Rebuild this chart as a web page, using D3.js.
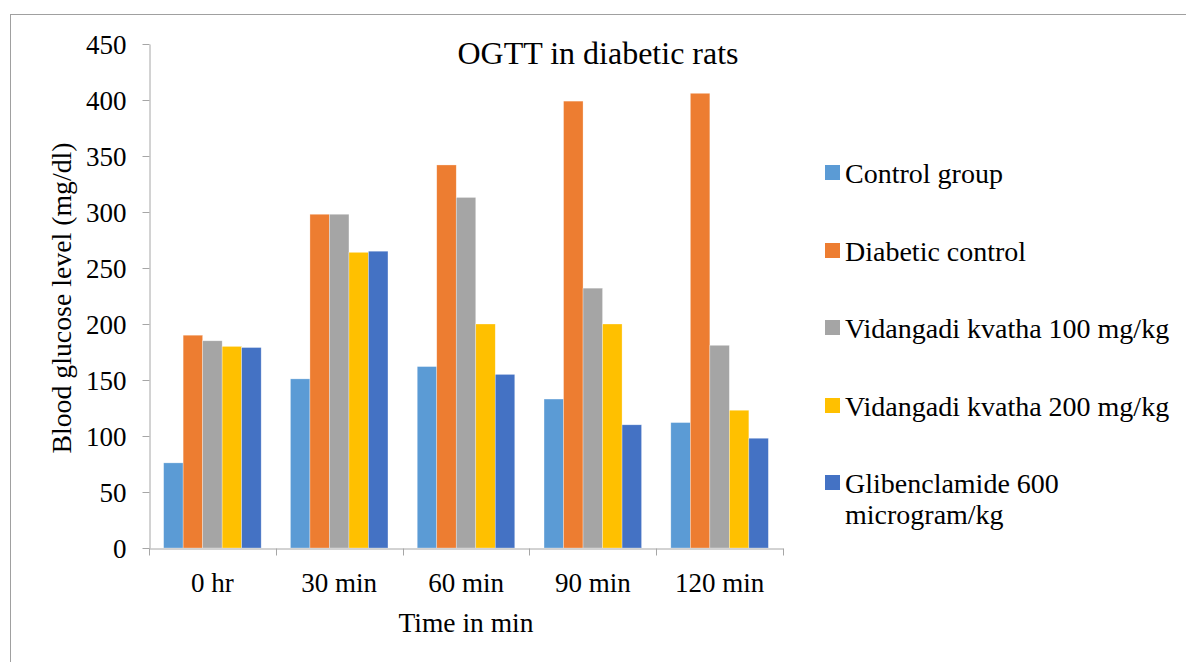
<!DOCTYPE html>
<html>
<head>
<meta charset="utf-8">
<script src="https://cdn.jsdelivr.net/npm/d3@7"></script>
<style>
  body { margin: 0; background: #fff; }
  svg { display: block; font-family: "Liberation Serif", "Times New Roman", serif; }
  .axis path, .axis line { stroke: #a6a6a6; }
  .axis text { font-size: 27px; fill: #000; font-family: "Liberation Serif", serif; }
</style>
</head>
<body>
<svg width="1186" height="662"></svg>
<script>
var categories = ["0 hr", "30 min", "60 min", "90 min", "120 min"]
var seriesNames = ["Control group", "Diabetic control", "Vidangadi kvatha 100 mg/kg", "Vidangadi kvatha 200 mg/kg", "Glibenclamide 600 microgram/kg"]
var controlGroup = [76, 151, 162, 133, 112]
var diabeticControl = [190, 298, 342, 399, 406]
var vid100 = [185, 298, 313, 232, 181]
var vid200 = [180, 264, 200, 200, 123]
var glibenclamide = [179, 265, 155, 110, 98]
var yTicks = [0, 50, 100, 150, 200, 250, 300, 350, 400, 450]
var colors = ["#5b9bd5", "#ed7d31", "#a5a5a5", "#ffc000", "#4472c4"]

var seriesValues = [controlGroup, diabeticControl, vid100, vid200, glibenclamide]

var svg = d3.select("svg")

// outer frame (only top and left edges are visible in the picture)
svg.append("rect")
    .attr("x", 10.5).attr("y", 14.5)
    .attr("width", 1300).attr("height", 800)
    .attr("fill", "none")
    .attr("stroke", "#a0a0a0")

var plotLeft = 149, plotRight = 783, plotTop = 44, plotBottom = 548

var x0 = d3.scaleBand().domain(categories).range([plotLeft, plotRight])
var x1 = d3.scaleBand().domain(seriesNames).range([0, x0.bandwidth()]).paddingOuter(0.75)
var y = d3.scaleLinear().domain([0, 450]).range([plotBottom, plotTop])

// bars
var groups = svg.append("g").selectAll("g")
    .data(categories)
  .enter().append("g")
    .attr("transform", function(d) { return "translate(" + x0(d) + ",0)" })

groups.selectAll("rect")
    .data(function(d, i) { return seriesNames.map(function(s, j) { return { s: s, v: seriesValues[j][i], c: colors[j] } }) })
  .enter().append("rect")
    .attr("x", function(d) { return x1(d.s) })
    .attr("y", function(d) { return y(d.v) })
    .attr("width", x1.bandwidth())
    .attr("height", function(d) { return y(0) - y(d.v) })
    .attr("fill", function(d) { return d.c })
    .attr("stroke", "#ffffff")
    .attr("stroke-opacity", 0.5)
    .attr("stroke-width", 0.6)

// y axis
var yAxis = svg.append("g")
    .attr("class", "axis")
    .attr("transform", "translate(" + (plotLeft + 0.5) + ",0)")
    .call(d3.axisLeft(y).tickValues(yTicks).tickSize(7).tickSizeOuter(0).tickPadding(16))
yAxis.selectAll("text").attr("dy", "0.34em")

// x axis: labels only, ticks sit between categories
var xAxis = svg.append("g")
    .attr("class", "axis")
    .attr("transform", "translate(0," + (plotBottom + 0.5) + ")")
    .call(d3.axisBottom(x0).tickSize(0).tickSizeOuter(0).tickPadding(0))
xAxis.selectAll("text").attr("dy", null).attr("y", 43)

var bounds = categories.map(function(c) { return x0(c) }).concat([plotRight])
xAxis.selectAll(".sep")
    .data(bounds)
  .enter().append("line")
    .attr("class", "sep")
    .attr("x1", function(d) { return Math.round(d) + 0.5 })
    .attr("x2", function(d) { return Math.round(d) + 0.5 })
    .attr("y1", 0).attr("y2", 7)

// titles
svg.append("text")
    .attr("x", 598).attr("y", 64)
    .attr("text-anchor", "middle")
    .style("font-size", "32px")
    .text("OGTT in diabetic rats")

svg.append("text")
    .attr("x", (plotLeft + plotRight) / 2).attr("y", 632)
    .attr("text-anchor", "middle")
    .style("font-size", "27.5px")
    .text("Time in min")

svg.append("text")
    .attr("transform", "translate(71," + 298 + ") rotate(-90)")
    .attr("text-anchor", "middle")
    .style("font-size", "27.8px")
    .text("Blood glucose level (mg/dl)")

// legend
var legendTop = [165, 243, 320, 398, 475]
var legend = svg.append("g").selectAll("g")
    .data(seriesNames)
  .enter().append("g")
    .attr("transform", function(d, i) { return "translate(825," + legendTop[i] + ")" })

legend.append("rect")
    .attr("width", 15).attr("height", 15)
    .attr("fill", function(d, i) { return colors[i] })

legend.append("text")
    .attr("x", 20)
    .style("font-size", "28px")
    .each(function(d) {
      // long names wrap onto a second line, as in the original
      var lines = d.length > 28 ? ["Glibenclamide 600", "microgram/kg"] : [d]
      var t = d3.select(this)
      lines.forEach(function(l, k) {
        t.append("tspan").attr("x", 20).attr("y", 18 + k * 31).text(l)
      })
    })
</script>
</body>
</html>
